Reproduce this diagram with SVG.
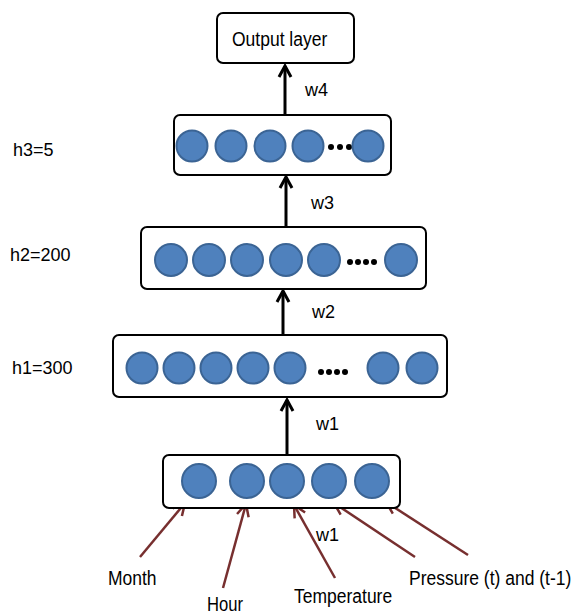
<svg xmlns="http://www.w3.org/2000/svg" width="577" height="616" viewBox="0 0 577 616">
<style>
.box{fill:#fff;stroke:#000;stroke-width:2}
.n{fill:#4F81BD;stroke:#3B6494;stroke-width:2}
.d{fill:#000}
.t{font-family:"Liberation Sans",Arial,sans-serif;fill:#000}
.big{font-size:17.5px}
.sm{font-size:18px}
.ak{stroke:#000;stroke-width:3;fill:none}
.ab{stroke:#772F2F;stroke-width:2.5;fill:none}
</style>
<defs>
<marker id="hk" markerUnits="userSpaceOnUse" markerWidth="30" markerHeight="30" viewBox="-15 -15 30 30" refX="0" refY="0" orient="auto" overflow="visible">
<path d="M-11,-6 L0,0 L-11,6" fill="none" stroke="#000" stroke-width="3"/>
</marker>
<marker id="hb" markerUnits="userSpaceOnUse" markerWidth="30" markerHeight="30" viewBox="-15 -15 30 30" refX="0" refY="0" orient="auto" overflow="visible">
<path d="M-12,-6 L0,0 L-12,6" fill="none" stroke="#772F2F" stroke-width="2.5"/>
</marker>
</defs>

<g id="connectors">
<line class="ak" x1="285" y1="115" x2="285" y2="66" marker-end="url(#hk)"/>
<line class="ak" x1="286" y1="227" x2="286" y2="177" marker-end="url(#hk)"/>
<line class="ak" x1="283" y1="335" x2="283" y2="291" marker-end="url(#hk)"/>
<line class="ak" x1="287" y1="455" x2="287" y2="400" marker-end="url(#hk)"/>
<line class="ab" x1="140" y1="557" x2="185" y2="503" marker-end="url(#hb)"/>
<line class="ab" x1="223" y1="588" x2="246" y2="504" marker-end="url(#hb)"/>
<line class="ab" x1="335" y1="578" x2="294" y2="505" marker-end="url(#hb)"/>
<line class="ab" x1="415" y1="557" x2="334" y2="503" marker-end="url(#hb)"/>
<line class="ab" x1="468" y1="555" x2="386" y2="502" marker-end="url(#hb)"/>
<text class="t sm" x="305" y="96">w4</text>
<text class="t sm" x="311" y="209">w3</text>
<text class="t sm" x="312" y="318">w2</text>
<text class="t sm" x="316" y="430">w1</text>
<text class="t sm" x="316" y="541">w1</text>
</g>

<g id="output">
<rect class="box" x="217" y="13" width="137" height="50" rx="6"/>
<text class="t big" transform="translate(232,46) scale(1,1.2)">Output layer</text>
</g>

<g id="h3">
<rect class="box" x="174" y="115" width="217" height="60" rx="6"/>
<circle class="n" cx="192" cy="146" r="15.5"/>
<circle class="n" cx="231" cy="146" r="15.5"/>
<circle class="n" cx="270" cy="146" r="15.5"/>
<circle class="n" cx="308" cy="146" r="15.5"/>
<circle class="d" cx="331" cy="147" r="3"/>
<circle class="d" cx="340" cy="147" r="3"/>
<circle class="d" cx="349" cy="147" r="3"/>
<circle class="n" cx="368" cy="146" r="15.5"/>
<text class="t sm" x="13" y="156">h3=5</text>
</g>

<g id="h2">
<rect class="box" x="141" y="227" width="285" height="62" rx="6"/>
<circle class="n" cx="171" cy="260" r="16"/>
<circle class="n" cx="209" cy="260" r="16"/>
<circle class="n" cx="247" cy="260" r="16"/>
<circle class="n" cx="286" cy="260" r="16"/>
<circle class="n" cx="324" cy="260" r="16"/>
<circle class="d" cx="350" cy="262" r="3"/>
<circle class="d" cx="358" cy="262" r="3"/>
<circle class="d" cx="366" cy="262" r="3"/>
<circle class="d" cx="374" cy="262" r="3"/>
<circle class="n" cx="401" cy="260" r="16"/>
<text class="t sm" x="10" y="261">h2=200</text>
</g>

<g id="h1">
<rect class="box" x="113" y="335" width="334" height="62" rx="6"/>
<circle class="n" cx="142" cy="368" r="15.5"/>
<circle class="n" cx="179" cy="368" r="15.5"/>
<circle class="n" cx="216" cy="368" r="15.5"/>
<circle class="n" cx="253" cy="368" r="15.5"/>
<circle class="n" cx="290" cy="368" r="15.5"/>
<circle class="d" cx="321" cy="372" r="3"/>
<circle class="d" cx="329" cy="372" r="3"/>
<circle class="d" cx="337" cy="372" r="3"/>
<circle class="d" cx="345" cy="372" r="3"/>
<circle class="n" cx="383" cy="368" r="15.5"/>
<circle class="n" cx="422" cy="368" r="15.5"/>
<text class="t sm" x="12" y="374">h1=300</text>
</g>

<g id="input">
<rect class="box" x="163" y="455" width="237" height="53" rx="6"/>
<circle class="n" cx="199" cy="481" r="17"/>
<circle class="n" cx="247" cy="481" r="17"/>
<circle class="n" cx="287" cy="481" r="17"/>
<circle class="n" cx="329" cy="481" r="17"/>
<circle class="n" cx="372" cy="481" r="17"/>
</g>

<g id="labels">
<text class="t big" transform="translate(108,585) scale(1,1.2)">Month</text>
<text class="t big" transform="translate(207,611) scale(0.95,1.2)">Hour</text>
<text class="t big" transform="translate(294,603) scale(1,1.2)">Temperature</text>
<text class="t big" transform="translate(409,585) scale(1,1.2)">Pressure (t) and (t-1)</text>
</g>
</svg>
